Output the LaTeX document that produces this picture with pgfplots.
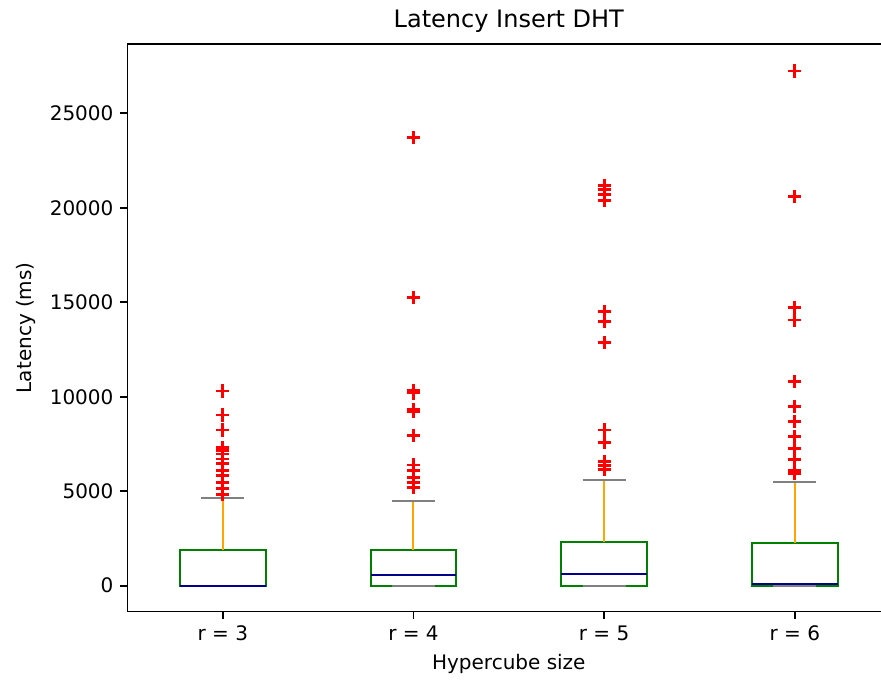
\documentclass[border=0pt]{standalone}
\usepackage{pgfplots}
\pgfplotsset{compat=1.18}
\usepackage{fontspec}
\setmainfont{DejaVu Sans}
\definecolor{mplgreen}{HTML}{008000}
\definecolor{mplblue}{HTML}{00008B}
\definecolor{mplorange}{HTML}{FFA500}
\definecolor{mplgray}{HTML}{808080}
\definecolor{mplred}{HTML}{FF0000}
\begin{document}
\begin{tikzpicture}
\path[use as bounding box, clip] (-63.75pt,-34.75pt) rectangle (376.75pt,305.75pt);
\begin{axis}[
  at={(0,0)}, anchor=south west,
  scale only axis, width=381.3pt, height=283.75pt,
  xmin=0.5, xmax=4.5, ymin=-1365, ymax=28665,
  xtick={1,2,3,4}, xticklabels={r = 3, r = 4, r = 5, r = 6},
  ytick={0,5000,10000,15000,20000,25000},
  scaled y ticks=false,
  yticklabel style={/pgf/number format/.cd, fixed, 1000 sep={}},
  /pgf/number format/assume math mode=true,
  tick align=outside, major tick length=3.5pt,
  xtick pos=bottom, ytick pos=left,
  tick style={line width=0.8pt, black},
  axis line style={line width=0.8pt},
  ticklabel style={font=\fontsize{10}{12}\selectfont},
  title={Latency Insert DHT},
  title style={font=\fontsize{12}{14}\selectfont, anchor=base, yshift=2pt},
  xlabel={Hypercube size},
  ylabel={Latency (ms)},
  label style={font=\fontsize{10}{12}\selectfont},
  box/.style={mplgreen, line width=1pt, line join=miter},
  whisk/.style={mplorange, line width=1pt},
  cap/.style={mplgray, line width=1pt},
  med/.style={mplblue, line width=1pt},
  flier/.style={only marks, mark=+, mark size=3.3pt, mark options={draw=mplred, line width=1.4pt}},
]
% boxes (q1 to q3)
\addplot[box] coordinates {(0.775,0) (1.225,0) (1.225,1872) (0.775,1872)} -- cycle;
\addplot[box] coordinates {(1.775,0) (2.225,0) (2.225,1872) (1.775,1872)} -- cycle;
\addplot[box] coordinates {(2.775,0) (3.225,0) (3.225,2310) (2.775,2310)} -- cycle;
\addplot[box] coordinates {(3.775,0) (4.225,0) (4.225,2258) (3.775,2258)} -- cycle;
% upper whiskers
\addplot[whisk] coordinates {(1,1872) (1,4630)};
\addplot[whisk] coordinates {(2,1872) (2,4460)};
\addplot[whisk] coordinates {(3,2310) (3,5600)};
\addplot[whisk] coordinates {(4,2258) (4,5510)};
% caps
\addplot[cap] coordinates {(0.8875,4630) (1.1125,4630)};
\addplot[cap] coordinates {(1.8875,4460) (2.1125,4460)};
\addplot[cap] coordinates {(2.8875,5600) (3.1125,5600)};
\addplot[cap] coordinates {(3.8875,5510) (4.1125,5510)};
\addplot[cap] coordinates {(0.8875,0) (1.1125,0)};
\addplot[cap] coordinates {(1.8875,0) (2.1125,0)};
\addplot[cap] coordinates {(2.8875,0) (3.1125,0)};
\addplot[cap] coordinates {(3.8875,0) (4.1125,0)};
% medians
\addplot[med] coordinates {(0.775,0) (1.225,0)};
\addplot[med] coordinates {(1.775,570) (2.225,570)};
\addplot[med] coordinates {(2.775,640) (3.225,640)};
\addplot[med] coordinates {(3.775,100) (4.225,100)};
% outliers
\addplot[flier] coordinates {(1,10300) (1,9030) (1,8240) (1,7320) (1,7150) (1,6970) (1,6710) (1,6450) (1,6090) (1,5830) (1,5470) (1,5130) (1,4830)};
\addplot[flier] coordinates {(2,23710) (2,15270) (2,10350) (2,10200) (2,9330) (2,9200) (2,7940) (2,6390) (2,6090) (2,5740) (2,5470) (2,5180)};
\addplot[flier] coordinates {(3,21190) (3,20950) (3,20720) (3,20370) (3,14530) (3,13970) (3,12860) (3,8240) (3,7590) (3,6580) (3,6360) (3,6140)};
\addplot[flier] coordinates {(4,27240) (4,20600) (4,14740) (4,14060) (4,10790) (4,9480) (4,8680) (4,7900) (4,7240) (4,6660) (4,6090) (4,5920)};
\end{axis}
\end{tikzpicture}
\end{document}
